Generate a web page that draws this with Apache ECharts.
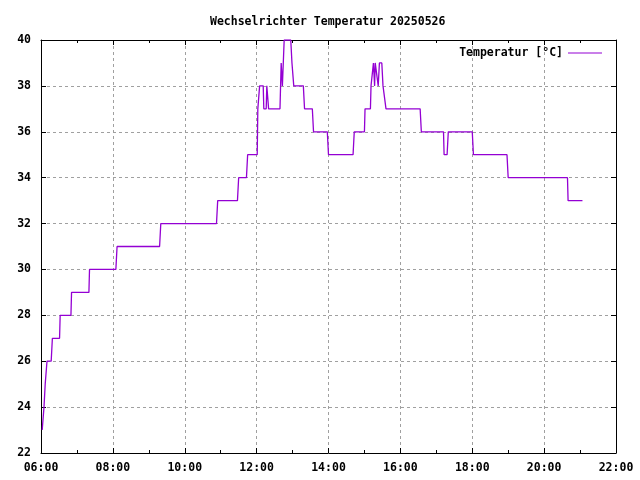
<!DOCTYPE html>
<html>
<head>
<meta charset="utf-8">
<script src="https://cdn.jsdelivr.net/npm/echarts@6/dist/echarts.min.js"></script>
<style>
html,body{margin:0;padding:0;background:#fff;}
#chart{width:640px;height:480px;}
</style>
</head>
<body>
<div id="chart"></div>
<script>
const times = ['06:02','06:04','06:05','06:07','06:10','06:17','06:19','06:31','06:32','06:50','06:51','07:20','07:21','08:05','08:07','09:18','09:20','10:53','10:55','11:28','11:30','11:43','11:45','12:01','12:02','12:05','12:11','12:12','12:16','12:17','12:19','12:20','12:39','12:41','12:42','12:43','12:44','12:46','12:57','12:59','13:00','13:02','13:18','13:20','13:33','13:35','13:58','14:00','14:41','14:43','15:00','15:01','15:10','15:11','15:14','15:15','15:16','15:17','15:18','15:21','15:23','15:25','15:29','15:31','15:34','15:36','16:33','16:35','17:12','17:13','17:18','17:20','18:00','18:02','18:58','19:00','20:39','20:40','21:04'];
const temps = [23,23,24,25,26,26,27,27,28,28,29,29,30,30,31,31,32,32,33,33,34,34,35,35,37,38,38,37,37,38,38,37,37,39,39,38,38,40,40,39,39,38,38,37,37,36,36,35,35,36,36,37,37,38,38,39,39,38,39,39,38,39,39,38,38,37,37,36,36,35,35,36,36,35,35,34,34,33,33];
const xTickLabels = ['06:00','08:00','10:00','12:00','14:00','16:00','18:00','20:00','22:00'];
const seriesName = 'Temperatur [°C]';
const titleText = 'Wechselrichter Temperatur 20250526';

function toHours(t){ const p = t.split(':'); return +p[0] + (+p[1])/60; }
const data = times.map((t,i)=>[toHours(t), temps[i]]);

const FONT = 'DejaVu Sans Mono';
const labelStyle = {color:'#000', fontFamily:FONT, fontWeight:'bold', fontSize:11.5};
const chart = echarts.init(document.getElementById('chart'), null, {renderer:'canvas'});
const xMin = 6, xMax = 22;
const baseX = {
  type:'value', min:xMin, max:xMax, interval:2,
  axisLine:{show:true, onZero:false, lineStyle:{color:'#000', width:1}},
  axisTick:{show:true, inside:true, length:5, lineStyle:{color:'#000'}},
  minorTick:{show:true, splitNumber:2, length:3, lineStyle:{color:'#000'}},
};
const baseY = {
  type:'value', min:22, max:40, interval:2,
  axisLine:{show:true, onZero:false, lineStyle:{color:'#000', width:1}},
  axisTick:{show:true, inside:true, length:5, lineStyle:{color:'#000'}},
};
chart.setOption({
  animation:false,
  backgroundColor:'#fff',
  title:{text:titleText, left:205, top:11, textStyle:Object.assign({}, labelStyle)},
  legend:{
    data:[seriesName], right:33, top:42, align:'right', icon:'rect', itemWidth:34, itemHeight:1,
    textStyle:Object.assign({}, labelStyle)
  },
  grid:{left:41, right:24, top:40, bottom:27, containLabel:false},
  xAxis:[
    Object.assign({}, baseX, {
      position:'bottom',
      axisLabel:Object.assign({margin:9, formatter:(v)=>xTickLabels[Math.round((v-xMin)/2)]}, labelStyle),
      splitLine:{show:true, lineStyle:{color:'#a0a0a0', width:1, type:[3,3]}}
    }),
    Object.assign({}, baseX, {position:'top', axisLabel:{show:false}, splitLine:{show:false}})
  ],
  yAxis:[
    Object.assign({}, baseY, {
      position:'left',
      axisLabel:Object.assign({margin:10}, labelStyle),
      splitLine:{show:true, lineStyle:{color:'#a0a0a0', width:1, type:[3,3]}}
    }),
    Object.assign({}, baseY, {position:'right', axisLabel:{show:false}, splitLine:{show:false}})
  ],
  series:[{
    name:seriesName, type:'line', data:data, symbol:'none', showSymbol:false,
    color:'#9400d3', lineStyle:{color:'#9400d3', width:1.3}, clip:true, xAxisIndex:0, yAxisIndex:0
  }]
});
</script>
</body>
</html>
